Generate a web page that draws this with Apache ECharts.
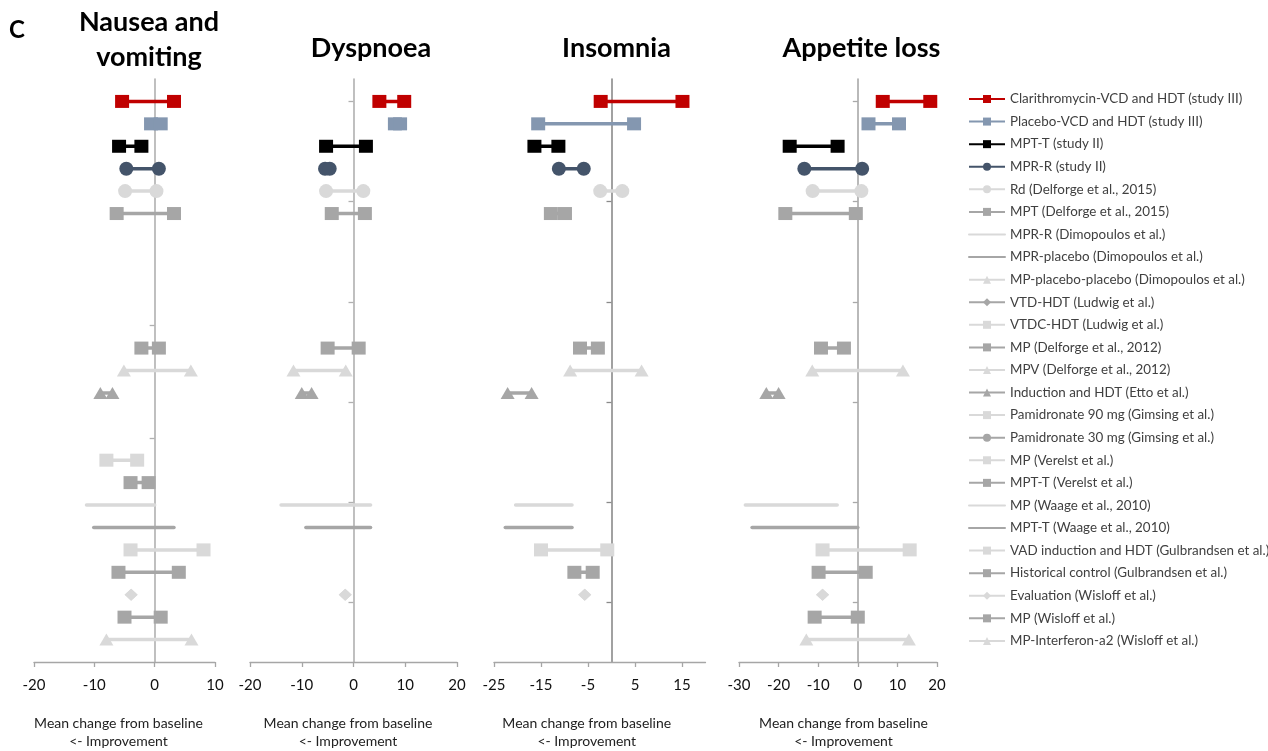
<!DOCTYPE html>
<html><head><meta charset="utf-8">
<script src="https://cdn.jsdelivr.net/npm/echarts@6/dist/echarts.min.js"></script>
<style>html,body{margin:0;padding:0;background:#fff}#c{width:1268px;height:751px}</style>
</head><body><div id="c"></div><script>
// ---------- data ----------
const categories = [
  "Clarithromycin-VCD and HDT (study III)", "Placebo-VCD and HDT (study III)", "MPT-T (study II)", "MPR-R (study II)",
  "Rd (Delforge et al., 2015)", "MPT (Delforge et al., 2015)", "MPR-R (Dimopoulos et al.)", "MPR-placebo (Dimopoulos et al.)",
  "MP-placebo-placebo (Dimopoulos et al.)", "VTD-HDT (Ludwig et al.)", "VTDC-HDT (Ludwig et al.)", "MP (Delforge et al., 2012)",
  "MPV (Delforge et al., 2012)", "Induction and HDT (Etto et al.)", "Pamidronate 90 mg (Gimsing et al.)", "Pamidronate 30 mg (Gimsing et al.)",
  "MP (Verelst et al.)", "MPT-T (Verelst et al.)", "MP (Waage et al., 2010)", "MPT-T (Waage et al., 2010)",
  "VAD induction and HDT (Gulbrandsen et al.)", "Historical control (Gulbrandsen et al.)", "Evaluation (Wisloff et al.)",
  "MP (Wisloff et al.)", "MP-Interferon-a2 (Wisloff et al.)"
];
const panelTitles = ["Nausea and\nvomiting", "Dyspnoea", "Insomnia", "Appetite loss"];
const n = null;
const nauseaFrom = [-5.4, -0.6, -5.9, -4.7, -4.9, -6.3, n, n, n, n, n, -2.2, -5.1, -9.0, n, n, -8.0, -4.0, -11.3, -10.1, -4.0, -6.0, -3.9, -5.0, -8.0];
const nauseaTo   = [ 3.2,  1.0, -2.2,  0.7,  0.3,  3.2, n, n, n, n, n,  0.7,  6.0, -7.0, n, n, -2.9, -1.0,   0.0,   3.2,  8.1,  4.0, -3.9,  1.0,  6.1];
const dyspnoeaFrom = [5.0, 8.0, -5.3, -5.5, -5.3, -4.2, n, n, n, n, n, -5.0, -11.6, -10.0, n, n, n, n, -14.0, -9.2, n, n, -1.6, n, n];
const dyspnoeaTo   = [9.8, 9.0,  2.4, -4.6,  1.9,  2.2, n, n, n, n, n,  1.0,  -1.5,  -8.1, n, n, n, n,   3.3,  3.3, n, n, -1.6, n, n];
const insomniaFrom = [-2.3, -15.6, -16.4, -11.2, -2.4, -12.9, n, n, n, n, n, -6.7, -8.8, -22.1, n, n, n, n, -20.4, -22.6, -15.0, -7.9, -5.7, n, n];
const insomniaTo   = [15.1,   4.8, -11.3,  -5.9,  2.3,  -9.9, n, n, n, n, n, -2.9,  6.4, -17.0, n, n, n, n,  -8.4,  -8.4,  -0.9, -4.0, -5.7, n, n];
const appetiteFrom = [ 6.3,  2.7, -17.2, -13.5, -11.4, -18.3, n, n, n, n, n, -9.3, -11.5, -23.1, n, n, n, n, -28.4, -26.7, -8.9, -9.9, -8.9, -10.9, -13.0];
const appetiteTo   = [18.3, 10.4,  -5.1,   1.1,   0.9,  -0.5, n, n, n, n, n, -3.5,  11.4, -20.0, n, n, n, n,  -5.2,   0.0, 13.1,  2.0, -8.9,   0.0,  12.9];
const xMin = [-20, -20, -25, -30];
const xMax = [10, 20, 20, 20];
const xTickLabels = [[-20, -10, 0, 10], [-20, -10, 0, 10, 20], [-25, -15, -5, 5, 15], [-30, -20, -10, 0, 10, 20]];
const yTickRows = [[0, 5, 10, 15, 20], [0, 4.47, 8.94, 13.41, 17.88, 22.35], [0, 4.47, 8.94, 13.41, 17.88, 22.35], [0, 4.47, 8.94, 13.41, 17.88, 22.35]];

// ---------- styles ----------
const LIGHT = '#D9D9D9', DARK = '#A6A6A6';
const colors = ['#C00000', '#8497B0', '#000000', '#44546A', LIGHT, DARK, LIGHT, DARK, LIGHT, DARK, LIGHT, DARK,
  LIGHT, DARK, LIGHT, DARK, LIGHT, DARK, LIGHT, DARK, LIGHT, DARK, LIGHT, DARK, LIGHT];
const symbols = ['rect', 'rect', 'rect', 'circle', 'circle', 'rect', 'none', 'none', 'triangle', 'diamond', 'rect', 'rect',
  'triangle', 'triangle', 'rect', 'circle', 'rect', 'rect', 'none', 'none', 'rect', 'rect', 'diamond', 'rect', 'triangle'];
const symSize = { rect: [14, 13], circle: 14, triangle: [14, 12], diamond: [13, 12], none: 0 };
const FONT = 'Lato, "Open Sans", sans-serif';
const gridLeft = [34, 250, 494, 739];
const gridWidth = [181, 207, 211.5, 198];
const zeroLineColor = ['#b0b0b0', '#b0b0b0', '#8a8a8a', '#a8a8a8'];
const titleX = [149, 371, 616.5, 861.5];
const captionPad = [[0, 12, 0, 0], [0, 11, 0, 0], [0, 26, 0, 0], [0, 0, 0, 11]];

const panelsFrom = [nauseaFrom, dyspnoeaFrom, insomniaFrom, appetiteFrom];
const panelsTo = [nauseaTo, dyspnoeaTo, insomniaTo, appetiteTo];

const grid = [], xAxis = [], yAxis = [];
for (let k = 0; k < 4; k++) {
  grid.push({ left: gridLeft[k], width: gridWidth[k], top: 79, height: 583, containLabel: false, outerBoundsMode: 'none' });
  xAxis.push({
    type: 'value', gridIndex: k, min: xMin[k], max: xMax[k],
    splitLine: { show: false },
    axisLine: { onZero: false, lineStyle: { color: '#a6a6a6', width: 1.3 } },
    axisTick: { show: true, length: 5, customValues: xTickLabels[k], lineStyle: { color: '#a6a6a6', width: 1.3 } },
    axisLabel: { customValues: xTickLabels[k], margin: 16, fontSize: 15, color: '#111', fontFamily: FONT },
    name: 'Mean change from baseline\n<- Improvement', nameLocation: 'middle', nameGap: 52,
    nameTextStyle: { fontSize: 14, lineHeight: 18, color: '#222', fontFamily: FONT, padding: captionPad[k] }
  });
  yAxis.push({
    type: 'value', gridIndex: k, min: -1, max: 25, inverse: true,
    splitLine: { show: false },
    axisLine: { onZero: true, lineStyle: { color: zeroLineColor[k], width: 1.6 } },
    axisTick: { show: true, length: 5, customValues: yTickRows[k], lineStyle: { color: zeroLineColor[k], width: 1.3 } },
    axisLabel: { show: false }
  });
}

const series = [];
categories.forEach((name, i) => {
  const sym = symbols[i];
  let added = false;
  const base = {
    type: 'line', name, symbol: sym, symbolSize: symSize[sym], showSymbol: sym !== 'none',
    itemStyle: { color: colors[i] },
    lineStyle: { color: colors[i], width: 3.5, cap: sym === 'none' ? 'round' : 'butt' },
    silent: true, animation: false
  };
  for (let k = 0; k < 4; k++) {
    const a = panelsFrom[k][i], b = panelsTo[k][i];
    if (a == null) continue;
    series.push(Object.assign({}, base, { xAxisIndex: k, yAxisIndex: k, data: [[a, i], [b, i]] }));
    added = true;
  }
  if (!added) series.push(Object.assign({}, base, { xAxisIndex: 0, yAxisIndex: 0, data: [] }));
});

const titles = [{ text: 'C', left: 17, top: 15, textAlign: 'center', padding: 0,
  textStyle: { fontSize: 24, fontWeight: 'bold', fontFamily: FONT, color: '#000', lineHeight: 30 } }];
panelTitles.forEach((t, k) => titles.push({
  text: t, left: titleX[k], top: k === 0 ? 4.5 : 30.5, textAlign: 'center', padding: 0,
  textStyle: { fontSize: 27, fontWeight: 'bold', fontFamily: FONT, color: '#000', lineHeight: 35 }
}));

const chart = echarts.init(document.getElementById('c'), null, { renderer: 'canvas' });
chart.setOption({
  backgroundColor: '#fff',
  animation: false,
  title: titles,
  grid, xAxis, yAxis, series,
  legend: {
    orient: 'vertical', left: 968, top: 91, itemWidth: 36, itemHeight: 10, itemGap: 6.58,
    selectedMode: false, padding: 0,
    textStyle: { fontFamily: FONT, fontSize: 13.4, color: '#404040', lineHeight: 16 },
    data: categories.map((c, i) => symbols[i] === 'none' ? { name: c, itemStyle: { opacity: 0 } } : { name: c })
  }
});
</script></body></html>
